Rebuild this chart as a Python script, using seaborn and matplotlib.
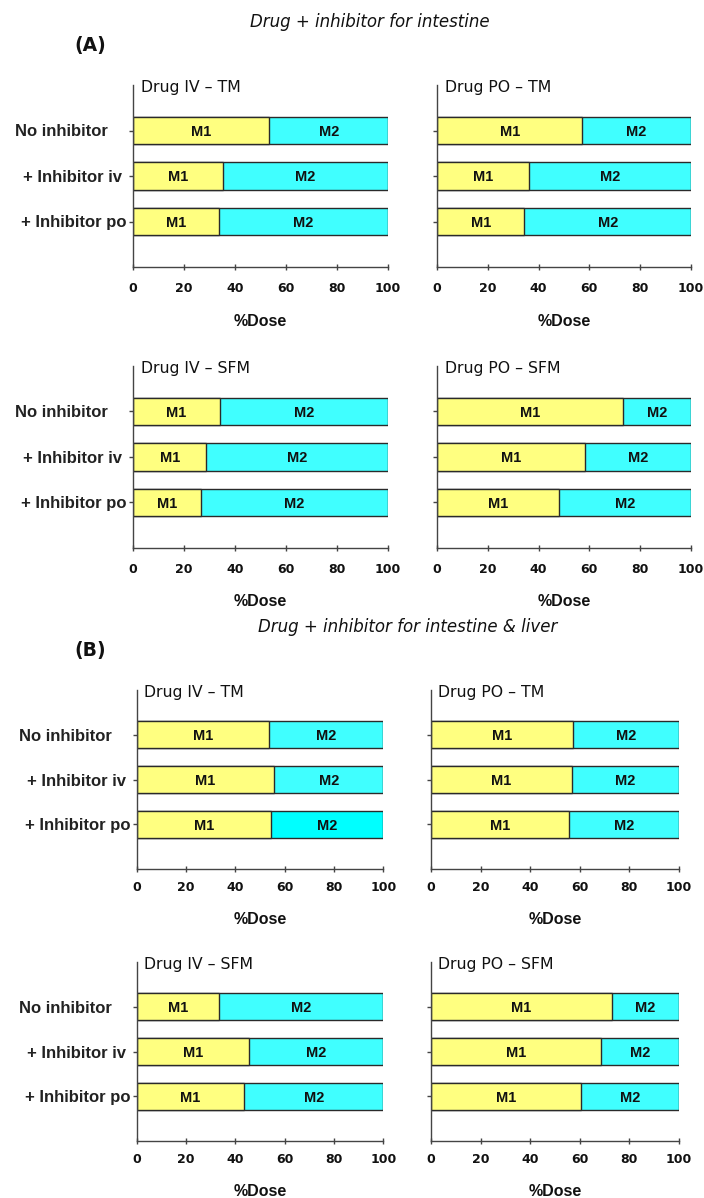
import matplotlib
matplotlib.use("Agg")
import matplotlib.pyplot as plt
import seaborn as sns
import pandas as pd

# ---------------- data ----------------
categories = ["No inhibitor", "+ Inhibitor iv", "+ Inhibitor po"]
ytick_labels = ["No inhibitor    ", "+ Inhibitor iv ", "+ Inhibitor po"]
xticks = [0, 20, 40, 60, 80, 100]

section_titles = ["Drug + inhibitor for intestine", "Drug + inhibitor for intestine & liver"]
section_tags = ["(A)", "(B)"]
panel_titles = ["Drug IV \u2013 TM", "Drug PO \u2013 TM", "Drug IV \u2013 SFM", "Drug PO \u2013 SFM"]

a_iv_tm_m1 = [53.5, 35.2, 33.7]
a_iv_tm_m2 = [46.5, 64.8, 66.3]
a_po_tm_m1 = [57.2, 36.3, 34.4]
a_po_tm_m2 = [42.8, 63.7, 65.6]
a_iv_sfm_m1 = [34.1, 28.8, 26.5]
a_iv_sfm_m2 = [65.9, 71.2, 73.5]
a_po_sfm_m1 = [73.3, 58.1, 48.1]
a_po_sfm_m2 = [26.7, 41.9, 51.9]

b_iv_tm_m1 = [53.6, 55.8, 54.5]
b_iv_tm_m2 = [46.4, 44.2, 45.5]
b_po_tm_m1 = [57.1, 56.8, 55.5]
b_po_tm_m2 = [42.9, 43.2, 44.5]
b_iv_sfm_m1 = [33.6, 45.6, 43.5]
b_iv_sfm_m2 = [66.4, 54.4, 56.5]
b_po_sfm_m1 = [72.9, 68.4, 60.6]
b_po_sfm_m2 = [27.1, 31.6, 39.4]

# ---------------- style ----------------
sns.set_style("white")
plt.rcParams["font.family"] = ["Liberation Sans", "DejaVu Sans"]
LIB = ["Liberation Sans", "DejaVu Sans"]
DJV = ["DejaVu Sans"]

YELLOW = "#FFFF80"
CYAN = "#40FFFF"
CYAN_PURE = "#00FFFF"
EDGE = "#2a2a2a"

W, H = 704, 1198
fig = plt.figure(figsize=(W / 100, H / 100), dpi=100)
fig.patch.set_facecolor("white")


def add_ax(l, r, t, b):
    return fig.add_axes([l / W, 1 - b / H, (r - l) / W, (b - t) / H])


def draw(ax, m1, m2, title, show_ylabels, m2_colors, tick_pad, xlab_y):
    df = pd.DataFrame({"cat": categories, "M1": m1, "M2": m2})
    df["total"] = df["M1"] + df["M2"]
    sns.barplot(data=df, x="total", y="cat", hue="cat", palette=m2_colors,
                orient="h", width=0.6, saturation=1, edgecolor=EDGE,
                linewidth=1.0, legend=False, errorbar=None, ax=ax)
    sns.barplot(data=df, x="M1", y="cat", color=YELLOW, orient="h",
                width=0.6, saturation=1, edgecolor=EDGE, linewidth=1.0,
                errorbar=None, ax=ax)
    for i, (a, b) in enumerate(zip(m1, m2)):
        ax.text(a / 2, i + 0.03, "M1", ha="center", va="center",
                fontsize=10.5, fontweight="bold", family=LIB, color="#111")
        ax.text(a + b / 2, i + 0.03, "M2", ha="center", va="center",
                fontsize=10.5, fontweight="bold", family=LIB, color="#111")
    ax.set_xlim(0, 100)
    ax.set_ylim(3, -1)
    ax.set_xticks(xticks)
    ax.set_xticklabels([str(v) for v in xticks], fontsize=9,
                       fontweight="bold", family=DJV, color="#111")
    ax.set_yticks(range(len(categories)))
    if show_ylabels:
        ax.set_yticklabels(ytick_labels, fontsize=12, fontweight="bold",
                           family=LIB, color="#222")
    else:
        ax.set_yticklabels([])
    ax.tick_params(axis="x", direction="inout", length=5, width=1,
                   color="#444", pad=tick_pad, bottom=True)
    ax.tick_params(axis="y", direction="out", length=3, width=1,
                   color="#444", pad=1.5, left=True)
    for s in ["top", "right"]:
        ax.spines[s].set_visible(False)
    for s in ["left", "bottom"]:
        ax.spines[s].set_color("#444")
        ax.spines[s].set_linewidth(1.0)
    ax.set_ylabel("")
    ax.set_xlabel("%Dose", fontsize=11.5, fontweight="bold", family=LIB,
                  color="#111")
    ax.xaxis.set_label_coords(0.5, xlab_y)
    ax.xaxis.label.set_va("center")
    ax.text(0.03, 0.985, title, transform=ax.transAxes, ha="left", va="center",
            fontsize=11.3, family=DJV, color="#111")


normal3 = [CYAN, CYAN, CYAN]
special3 = [CYAN, CYAN, CYAN_PURE]

# ---- section A ----
rowsA = [(85, 267), (366, 548)]
colsA = [(133, 388), (437, 691)]
dataA = [[(a_iv_tm_m1, a_iv_tm_m2), (a_po_tm_m1, a_po_tm_m2)],
         [(a_iv_sfm_m1, a_iv_sfm_m2), (a_po_sfm_m1, a_po_sfm_m2)]]
for r, (t, b) in enumerate(rowsA):
    for c, (l, rr) in enumerate(colsA):
        ax = add_ax(l, rr, t, b)
        m1, m2 = dataA[r][c]
        draw(ax, m1, m2, panel_titles[2 * r + c], c == 0, normal3,
             8, -54 / (b - t))

# ---- section B ----
rowsB = [(690, 869), (962, 1141)]
colsB = [(136.5, 383.5), (431, 679)]
dataB = [[(b_iv_tm_m1, b_iv_tm_m2), (b_po_tm_m1, b_po_tm_m2)],
         [(b_iv_sfm_m1, b_iv_sfm_m2), (b_po_sfm_m1, b_po_sfm_m2)]]
for r, (t, b) in enumerate(rowsB):
    for c, (l, rr) in enumerate(colsB):
        ax = add_ax(l, rr, t, b)
        m1, m2 = dataB[r][c]
        pal = special3 if (r == 0 and c == 0) else normal3
        draw(ax, m1, m2, panel_titles[2 * r + c], c == 0, pal,
             6, -50 / (b - t))

# ---- section headings ----
fig.text(370 / W, 1 - 22 / H, section_titles[0], ha="center", va="center",
         fontsize=12, fontstyle="italic", family=DJV, color="#111")
fig.text(90 / W, 1 - 45 / H, section_tags[0], ha="center", va="center",
         fontsize=13.5, fontweight="bold", family=DJV, color="#111")
fig.text(408 / W, 1 - 627 / H, section_titles[1], ha="center", va="center",
         fontsize=12, fontstyle="italic", family=DJV, color="#111")
fig.text(90 / W, 1 - 650 / H, section_tags[1], ha="center", va="center",
         fontsize=13.5, fontweight="bold", family=DJV, color="#111")

fig.savefig("out.png", dpi=100, facecolor="white")
